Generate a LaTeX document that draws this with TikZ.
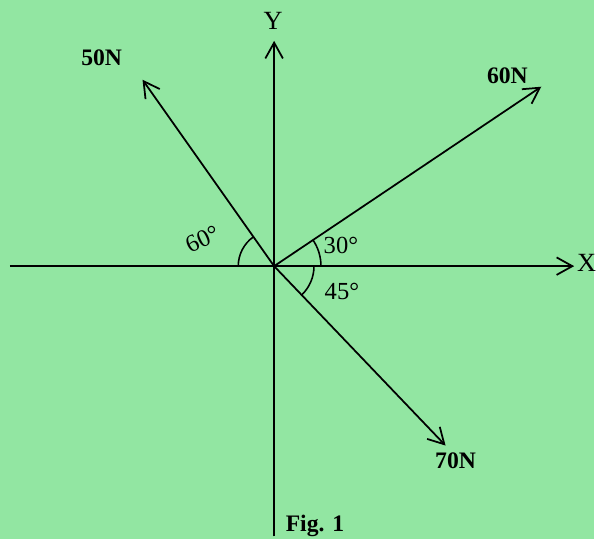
\documentclass[tikz,border=0pt]{standalone}
\usepackage{fontspec}
\setmainfont{Liberation Serif}
\usetikzlibrary{arrows.meta}
\definecolor{paper}{RGB}{146,230,162}

\begin{document}
\begin{tikzpicture}[>={Straight Barb[length=9pt,width=10pt]}, line width=1pt, x=0.02cm, y=0.02cm,
  force/.style={font=\fontsize{13.5}{15}\selectfont\bfseries},
  angtext/.style={font=\fontsize{14}{16}\selectfont},
  axtext/.style={font=\fontsize{15}{17}\selectfont}]
  \fill[paper] (0,0) rectangle (596,541);
  % axes
  \coordinate (O) at (275,274);
  \coordinate (xl) at (10,274);
  \coordinate (xr) at (576,274);
  \coordinate (yb) at (275,3);
  \coordinate (yt) at (275,500);
  \draw[->] (xl) -- (xr);
  \draw[->] (yb) -- (yt);
  \node[axtext, anchor=west, inner sep=0pt] (X) at (578,277) {X};
  \node[axtext] (Y) at (274,520) {Y};
  % forces
  \coordinate (f50) at (143,461);
  \coordinate (f60) at (543,454);
  \coordinate (f70) at (447,94);
  \draw[->] (O) -- (f50);
  \draw[->] (O) -- (f60);
  \draw[->] (O) -- (f70);
  \node[force] (l50) at (102,483) {50N};
  \node[force] (l60) at (509,465) {60N};
  \node[force] (l70) at (457,79) {70N};
  % angles
  \draw[line width=0.9pt] (O) ++(180:36) arc[start angle=180, end angle=125, radius=36];
  \draw[line width=0.9pt] (O) ++(0:47) arc[start angle=0, end angle=34, radius=47];
  \draw[line width=0.9pt] (O) ++(0:40) arc[start angle=0, end angle=-46, radius=40];
  \node[angtext, rotate=25] (a60) at (203,301) {60°};
  \node[angtext] (a30) at (342,295) {30°};
  \node[angtext] (a45) at (343,249) {45°};
  \node[force] (fig) at (316,13) {Fig. 1};
\end{tikzpicture}
\end{document}
